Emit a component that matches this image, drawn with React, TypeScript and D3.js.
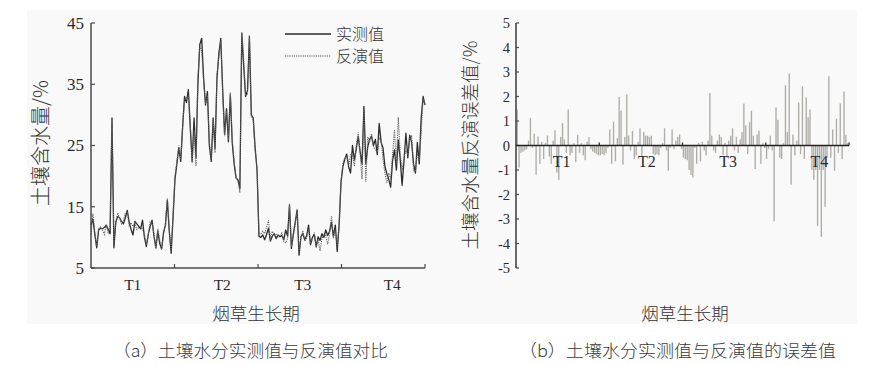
import { scaleLinear, scaleBand, line } from "d3"

// growth periods
const periods = ["T1", "T2", "T3", "T4"]

// soil moisture, measured (%)
const measured = [
  12.0, 13.0, 10.5, 8.3, 11.2, 11.5, 11.4, 11.6, 12.0, 11.3, 10.6, 29.5, 8.3, 12.5, 13.4, 13.2, 12.6, 12.2, 13.2, 14.4, 12.5, 11.3,
  10.4, 12.6, 12.2, 11.8, 11.4, 12.8, 10.0, 8.5, 10.5, 11.8, 12.8, 10.2, 8.3, 11.0, 9.0, 8.1, 10.8, 12.0, 16.1, 11.0, 7.4, 13.3,
  19.5, 22.0, 24.6, 22.4, 28.0, 33.0, 32.0, 34.1, 28.0, 22.4, 29.5, 23.0, 35.0, 41.5, 42.5, 36.0, 31.6, 33.8, 25.0, 22.4, 29.5, 24.5,
  36.0, 40.0, 42.5, 34.0, 26.8, 31.0, 25.6, 33.3, 25.5, 22.0, 19.7, 19.4, 18.0, 43.3, 38.0, 33.0, 34.0, 42.8, 30.0, 29.5, 24.6, 21.0,
  10.2, 10.0, 10.4, 9.6, 10.5, 11.5, 9.4, 10.2, 10.6, 9.8, 10.4, 10.1, 10.3, 9.6, 11.2, 10.2, 15.3, 8.2, 10.5, 12.5, 14.5, 7.1,
  10.1, 10.6, 9.6, 10.3, 12.0, 8.8, 10.0, 10.5, 8.5, 10.1, 9.5, 10.6, 10.0, 11.2, 10.3, 11.0, 12.5, 10.2, 12.0, 7.7, 12.0, 19.0,
  21.6, 22.8, 23.6, 21.5, 20.5, 25.0, 22.6, 24.5, 26.5, 24.0, 22.0, 31.4, 22.0, 24.8, 26.0, 26.5, 25.0, 26.0, 23.5, 28.6, 25.5, 24.6,
  21.6, 20.4, 19.5, 18.2, 22.5, 24.3, 21.0, 25.9, 22.8, 18.5, 22.5, 27.0, 23.0, 26.7, 25.5, 22.0, 20.5, 25.5, 22.0, 29.5, 33.0, 31.6,
]

// soil moisture, inverted (%)
const inverted = [
  10.5, 13.9, 10.8, 8.6, 11.4, 11.7, 11.2, 10.5, 12.1, 10.8, 11.8, 29.1, 9.1, 12.4, 14.0, 13.1, 12.2, 12.7, 14.0, 14.2, 11.9, 12.4,
  11.8, 12.3, 11.3, 11.6, 11.7, 11.3, 10.4, 8.8, 10.4, 12.5, 12.4, 10.5, 8.2, 11.4, 9.6, 8.0, 10.5, 12.2, 16.4, 11.3, 7.8, 13.7,
  19.9, 22.4, 25.0, 22.7, 28.1, 32.4, 32.8, 33.1, 28.7, 22.1, 27.5, 21.6, 35.8, 41.2, 40.4, 35.6, 31.8, 33.2, 25.6, 22.8, 29.4, 23.8,
  36.5, 39.5, 42.1, 33.6, 26.5, 30.6, 26.0, 33.7, 25.9, 22.4, 19.8, 19.3, 17.3, 43.5, 39.0, 33.1, 33.4, 43.0, 29.8, 29.2, 24.2, 21.2,
  10.7, 10.6, 11.0, 10.6, 11.7, 12.8, 9.5, 11.0, 10.5, 10.5, 10.3, 10.3, 10.7, 9.4, 9.1, 9.8, 15.5, 8.5, 10.3, 12.1, 14.2, 7.5,
  10.0, 11.1, 9.4, 9.9, 11.3, 9.0, 9.7, 10.8, 8.3, 9.6, 7.8, 9.8, 10.4, 10.3, 8.9, 10.6, 13.5, 9.8, 11.4, 8.5, 11.9, 19.1,
  22.2, 23.0, 23.2, 21.7, 23.6, 23.5, 21.6, 25.0, 27.1, 23.9, 19.5, 30.9, 19.1, 26.4, 25.6, 26.9, 24.8, 24.3, 23.9, 26.2, 26.1, 22.6,
  20.5, 18.9, 20.5, 19.6, 23.5, 27.6, 22.0, 29.6, 23.8, 21.0, 23.0, 24.2, 23.5, 26.1, 26.5, 20.9, 20.8, 23.8, 22.6, 27.3, 32.6, 31.5,
]

// inversion error (%)
const errors = [
  1.47, -0.9, -0.3, -0.25, -0.2, -0.15, 0.2, 1.13, -0.1, 0.48, -1.19, 0.37, -0.75, 0.15, -0.55, 0.1, 0.41, -0.45, -0.75, 0.2, 0.62, -1.1,
  -1.41, 0.35, 0.92, 0.25, -0.3, 1.47, -0.4, -0.3, 0.1, -0.68, 0.43, -0.3, 0.1, -0.4, -0.6, 0.15, 0.34, -0.15, -0.25, -0.3, -0.35, -0.4,
  -0.4, -0.35, -0.4, -0.3, -0.1, 0.65, -0.75, 0.97, -0.65, 0.3, 1.98, 1.42, -0.78, 0.35, 2.08, 0.41, -0.2, 0.6, -0.55, -0.4, 0.15, 0.7,
  -0.45, 0.55, 0.4, 0.4, 0.35, 0.4, -0.35, -0.4, -0.35, -0.4, -0.1, 0.1, 0.7, -0.2, -1.03, -0.1, 0.65, -0.15, 0.2, 0.35, 0.45, -0.15,
  -0.5, -0.55, -0.6, -1.0, -1.2, -1.31, -0.1, -0.75, 0.1, -0.65, 0.15, -0.2, -0.4, 0.2, 2.14, 0.4, -0.2, -0.3, 0.2, 0.45, 0.35, -0.4,
  0.1, -0.5, 0.2, 0.4, 0.7, -0.2, 0.35, -0.3, 0.25, 0.55, 1.71, 0.82, -0.35, 0.95, 1.42, 0.4, -0.96, 0.45, 0.6, -0.75, 0.1, -0.1,
  -0.55, -0.15, 0.4, -0.2, -3.1, 1.55, 1.05, -0.5, -0.55, 0.1, 2.46, 0.55, 2.94, -1.6, 0.45, -0.4, 0.2, 1.75, -0.35, 2.42, -0.55, 1.96,
  1.15, 1.47, -1.0, -1.4, -1.0, -3.28, -1.0, -3.73, -1.0, -2.5, -0.5, 2.83, -0.5, 0.65, -1.03, 1.1, -0.3, 1.72, -0.55, 2.2, 0.44, 0.1,
]

const leftTicks = [5, 15, 25, 35, 45]
const rightTicks = [-5, -4, -3, -2, -1, 0, 1, 2, 3, 4, 5]

const SERIF = "'Liberation Serif', 'Times New Roman', serif"
const CJK = "'Noto Sans CJK SC', sans-serif"
const AXIS = "#4a4a4a"
const TEXT = "#2a2a2a"
const LABEL = "#333"

// left panel frame
const L = { x0: 91, x1: 425, y0: 23, y1: 268 }
// right panel frame
const R = { x0: 516, x1: 849, y0: 23, y1: 268 }

const leftShift = [0, 6, 3, 9]
const rightShift = [4, 6, 4, 12]

export default function App() {
  const n = measured.length
  const xL = scaleLinear().domain([0, n - 1]).range([L.x0, L.x1])
  const yL = scaleLinear().domain([5, 45]).range([L.y1, L.y0])
  const pL = scaleLinear().domain([0, periods.length]).range([L.x0, L.x1])

  const mkLine = line<number>().x((_, i) => xL(i)).y(d => yL(d))

  const xR = scaleBand<number>().domain(errors.map((_, i) => i)).range([R.x0, R.x1]).padding(0.28)
  const yR = scaleLinear().domain([-5, 5]).range([R.y1, R.y0])
  const pR = scaleLinear().domain([0, periods.length]).range([R.x0, R.x1])
  const y0 = yR(0)

  return (
    <svg width={893} height={365} style={{ position: "absolute", left: 0, top: 0, background: "#fff" }}>
      <rect x={27} y={10} width={830} height={314} fill="#f9f9f9" />

      {/* ---- (a) ---- */}
      <g>
        {/* legend */}
        <line x1={285} x2={331} y1={34} y2={34} stroke="#2b2b2b" strokeWidth={1.3} />
        <text x={336} y={40} fontFamily={CJK} fontWeight={300} fontSize={16} fill={LABEL}>实测值</text>
        <line x1={285} x2={331} y1={56} y2={56} stroke="#555" strokeWidth={1.2} strokeDasharray="1.2 1" />
        <text x={336} y={62} fontFamily={CJK} fontWeight={300} fontSize={16} fill={LABEL}>反演值</text>

        <path d={mkLine(measured) ?? ""} fill="none" stroke="#2b2b2b" strokeWidth={1.3} strokeLinejoin="round" />
        <path d={mkLine(inverted) ?? ""} fill="none" stroke="#666" strokeWidth={1.1} strokeDasharray="1.2 1" />

        {/* y axis */}
        <line x1={L.x0} x2={L.x0} y1={L.y0} y2={L.y1} stroke={AXIS} strokeWidth={1.5} />
        {leftTicks.map(t => (
          <g key={t} transform={`translate(${L.x0},${yL(t)})`}>
            <line x2={4} stroke={AXIS} strokeWidth={1.2} />
            <text x={-7} dy="0.35em" textAnchor="end" fontFamily={SERIF} fontSize={17} fill={TEXT}>{t}</text>
          </g>
        ))}
        {/* x axis */}
        <line x1={L.x0} x2={L.x1} y1={L.y1} y2={L.y1} stroke={AXIS} strokeWidth={1.5} />
        {periods.map((p, i) => (
          <g key={p}>
            <line x1={pL(i + 1)} x2={pL(i + 1)} y1={L.y1} y2={L.y1 - 4} stroke={AXIS} strokeWidth={1.2} />
            <text x={(pL(i) + pL(i + 1)) / 2 + leftShift[i]} y={290} textAnchor="middle" fontFamily={SERIF} fontSize={15.5} fill={TEXT}>{p}</text>
          </g>
        ))}
        <text x={256} y={320} textAnchor="middle" fontFamily={CJK} fontWeight={300} fontSize={17.5} fill={LABEL}>烟草生长期</text>
        <text transform="translate(48,143) rotate(-90)" textAnchor="middle" fontFamily={CJK} fontWeight={300} fontSize={20} fill={LABEL}>土壤含水量/%</text>
      </g>

      {/* ---- (b) ---- */}
      <g>
        {errors.map((e, i) => (
          <rect key={i} x={xR(i)} width={xR.bandwidth()} y={e >= 0 ? yR(e) : y0} height={Math.abs(yR(e) - y0)} fill="#afada8" />
        ))}
        <line x1={R.x0} x2={R.x0} y1={R.y0} y2={R.y1} stroke="#5a5a5a" strokeWidth={1.8} />
        {rightTicks.map(t => (
          <g key={t} transform={`translate(${R.x0},${yR(t)})`}>
            <line x2={3} stroke={AXIS} strokeWidth={1.2} />
            <text x={-6} dy="0.35em" textAnchor="end" fontFamily={SERIF} fontSize={14.5} fill={TEXT}>{t}</text>
          </g>
        ))}
        <line x1={R.x0} x2={R.x1} y1={y0} y2={y0} stroke="#222" strokeWidth={1.5} />
        {periods.map((p, i) => (
          <g key={p}>
            <line x1={pR(i + 1)} x2={pR(i + 1)} y1={y0} y2={y0 - 3} stroke="#222" strokeWidth={1.2} />
            <text x={(pR(i) + pR(i + 1)) / 2 + rightShift[i]} y={167} textAnchor="middle" fontFamily={SERIF} fontSize={16} fill={TEXT}>{p}</text>
          </g>
        ))}
        <text x={685} y={320} textAnchor="middle" fontFamily={CJK} fontWeight={300} fontSize={17.5} fill={LABEL}>烟草生长期</text>
        <text transform="translate(477,145) rotate(-90)" textAnchor="middle" fontFamily={CJK} fontWeight={300} fontSize={18.5} fill={LABEL}>土壤含水量反演误差值/%</text>
      </g>

      {/* captions */}
      <text x={113} y={357} textLength={275} lengthAdjust="spacingAndGlyphs" fontFamily={CJK} fontWeight={300} fontSize={17} fill="#3a3a3a">（a）土壤水分实测值与反演值对比</text>
      <text x={519} y={357} textLength={317} lengthAdjust="spacingAndGlyphs" fontFamily={CJK} fontWeight={300} fontSize={17} fill="#3a3a3a">（b）土壤水分实测值与反演值的误差值</text>
    </svg>
  )
}
